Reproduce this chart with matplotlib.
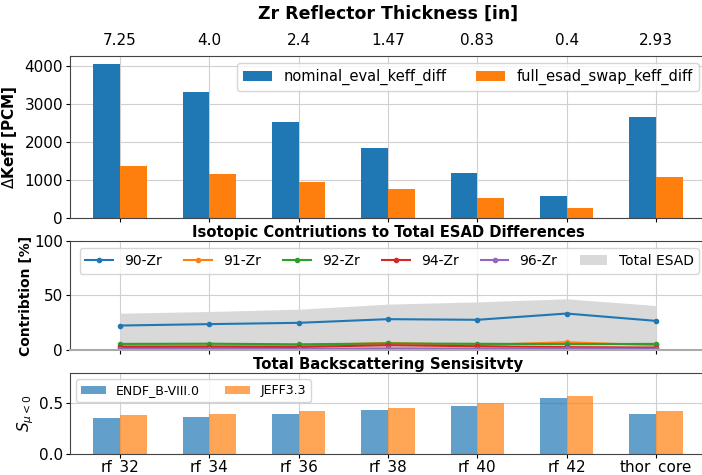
import numpy as np
import matplotlib
matplotlib.use('Agg')
import matplotlib.pyplot as plt

# Reflector cases
cases = ['rf_32', 'rf_34', 'rf_36', 'rf_38', 'rf_40', 'rf_42', 'thor_core']
thickness = ['7.25', '4.0', '2.4', '1.47', '0.83', '0.4', '2.93']

# keff differences [pcm]
nominal_eval_keff_diff = [4053, 3308, 2521, 1838, 1173, 578, 2661]
full_esad_swap_keff_diff = [1357, 1164, 945, 761, 516, 271, 1077]

# Isotopic contributions [%]
total_esad = [33.6, 35.2, 37.3, 42.0, 44.1, 46.9, 40.7]
zr90 = [22.2, 23.5, 24.7, 28.1, 27.5, 33.3, 26.5]
zr91 = [3.7, 3.8, 3.6, 6.1, 4.2, 6.7, 4.0]
zr92 = [5.2, 5.4, 4.8, 5.6, 5.3, 5.0, 5.2]
zr94 = [2.4, 2.5, 2.3, 4.0, 3.0, 2.2, 1.8]
zr96 = [0.6, 0.7, 0.6, 1.0, 0.8, 1.2, 0.6]

# Backscattering sensitivity
endf = [0.353, 0.370, 0.397, 0.430, 0.477, 0.550, 0.397]
jeff = [0.390, 0.397, 0.420, 0.453, 0.507, 0.570, 0.420]

x = np.arange(len(cases))
w = 0.3
tick_fs = 11
grid_kw = dict(color='#d0d0d0', linewidth=0.8)

fig = plt.figure(figsize=(7.02, 4.75), dpi=100)
ax1 = fig.add_axes([0.0997, 0.541, 0.906, 0.341])
ax2 = fig.add_axes([0.0997, 0.2642, 0.906, 0.2274])
ax3 = fig.add_axes([0.0997, 0.0442, 0.906, 0.1705])

# keff differences
ax1.bar(x - w / 2, nominal_eval_keff_diff, w, color='tab:blue', label='nominal_eval_keff_diff')
ax1.bar(x + w / 2, full_esad_swap_keff_diff, w, color='tab:orange', label='full_esad_swap_keff_diff')
ax1.set_xlim(-0.56, 6.56)
ax1.set_xticks(x)
ax1.xaxis.tick_top()
ax1.xaxis.set_label_position('top')
ax1.set_xticklabels(thickness, fontsize=tick_fs)
ax1.tick_params(axis='x', bottom=True, top=False, length=3, pad=3)
ax1.set_xlabel('Zr Reflector Thickness [in]', fontsize=12.5, fontweight='bold', labelpad=10)
ax1.set_ylabel(r'$\Delta$Keff [PCM]', fontsize=11, fontweight='bold')
ax1.set_yticks([0, 1000, 2000, 3000, 4000])
ax1.grid(True, **grid_kw)
ax1.set_axisbelow(True)
ax1.legend(loc='upper right', ncol=2, fontsize=10.5)

# isotopic contributions
ax2.fill_between(x, 0, total_esad, color='#d9d9d9', linewidth=0, label='Total ESAD')
for vals, lbl, c in [(zr90, '90-Zr', 'tab:blue'), (zr91, '91-Zr', 'tab:orange'),
                     (zr92, '92-Zr', 'tab:green'), (zr94, '94-Zr', 'tab:red'),
                     (zr96, '96-Zr', 'tab:purple')]:
    ax2.plot(x, vals, '-', marker='.', markersize=6, color=c, label=lbl)
ax2.set_xlim(-0.56, 6.56)
ax2.set_ylim(0, 100)
ax2.set_xticks(x)
ax2.set_xticklabels([])
ax2.tick_params(axis='x', length=3)
ax2.set_yticks([0, 50, 100])
ax2.set_title('Isotopic Contriutions to Total ESAD Differences', fontsize=10.6,
              fontweight='bold', pad=3)
ax2.set_ylabel('Contribtion [%]', fontsize=10, fontweight='bold', labelpad=1)
ax2.grid(True, **grid_kw)
ax2.set_axisbelow(True)
h, l = ax2.get_legend_handles_labels()
ax2.legend(h[1:] + h[:1], l[1:] + l[:1], loc='upper right', ncol=6, fontsize=10,
           handlelength=2, columnspacing=1.6)
ax2.spines['bottom'].set_color('#aaaaaa')
ax2.spines['bottom'].set_linewidth(1.5)

# backscattering sensitivity
ax3.bar(x - w / 2, endf, w, color='tab:blue', alpha=0.7, label='ENDF_B-VIII.0')
ax3.bar(x + w / 2, jeff, w, color='tab:orange', alpha=0.7, label='JEFF3.3')
ax3.set_xlim(-0.56, 6.56)
ax3.set_ylim(0, 0.8)
ax3.set_xticks(x)
ax3.set_xticklabels(cases, fontsize=tick_fs)
ax3.tick_params(axis='x', length=3, pad=1)
ax3.set_yticks([0.0, 0.5])
ax3.set_title('Total Backscattering Sensisitvty', fontsize=10.7, fontweight='bold', pad=3)
ax3.set_ylabel(r'$S_{\mu < 0}$', fontsize=11, labelpad=2)
ax3.grid(True, **grid_kw)
ax3.set_axisbelow(True)
ax3.legend(loc='upper left', ncol=2, fontsize=9)

for ax in (ax1, ax2, ax3):
    ax.tick_params(axis='y', labelsize=tick_fs, length=3, pad=2)
    for name, s in ax.spines.items():
        if not (ax is ax2 and name == 'bottom'):
            s.set_color('#444444')

fig.savefig('out.png', dpi=100)
